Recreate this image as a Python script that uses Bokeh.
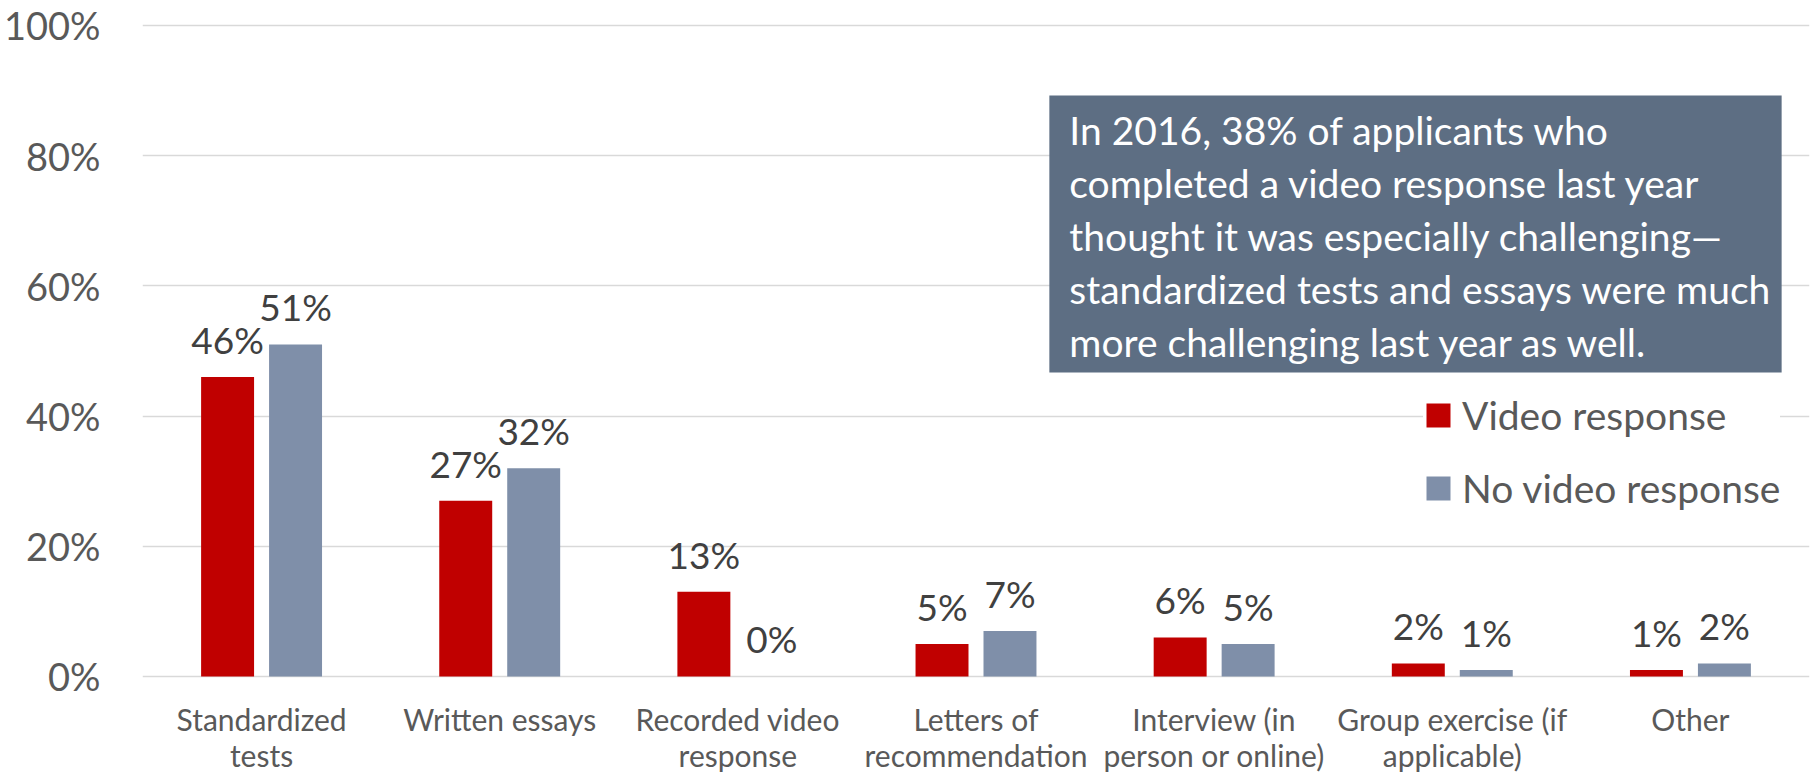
from bokeh.plotting import figure
from bokeh.models import (FactorRange, Range1d, LabelSet, ColumnDataSource, Legend,
                          LegendItem, BoxAnnotation, Label, FixedTicker)
from bokeh.transform import dodge
from bokeh.core.properties import value
from bokeh.embed import file_html
from bokeh.resources import INLINE

# ---- data ----
categories = ["Standardized\ntests", "Written essays", "Recorded video\nresponse",
              "Letters of\nrecommendation", "Interview (in\nperson or online)",
              "Group exercise (if\napplicable)", "Other"]
video_response = [46, 27, 13, 5, 6, 2, 1]
no_video_response = [51, 32, 0, 7, 5, 1, 2]
series_names = ["Video response", "No video response"]
y_ticks = [0, 20, 40, 60, 80, 100]
y_tick_labels = ["0%", "20%", "40%", "60%", "80%", "100%"]
note_lines = ["In 2016, 38% of applicants who",
              "completed a video response last year",
              "thought it was especially challenging\u2014",
              "standardized tests and essays were much",
              "more challenging last year as well."]

FONT = "Lato"
RED = "#C00000"
GRAY = "#7F8FA9"
TXT = "#595959"

src = ColumnDataSource(dict(
    cat=categories,
    zero=[0] * len(categories),
    video=video_response,
    novideo=no_video_response,
    video_lbl=[f"{v}%" for v in video_response],
    novideo_lbl=[f"{v}%" for v in no_video_response],
))

p = figure(x_range=FactorRange(factors=categories, range_padding=0),
           y_range=Range1d(-15.668, 100.61), width=1816, height=778,
           output_backend="svg", toolbar_location=None,
           min_border_left=140, min_border_right=7,
           min_border_top=21, min_border_bottom=0)
p.outline_line_color = None
p.background_fill_color = "white"
p.border_fill_color = "white"

# grid
p.xgrid.grid_line_color = None
p.ygrid.ticker = FixedTicker(ticks=y_ticks)
p.ygrid.grid_line_color = "#D9D9D9"
p.ygrid.grid_line_width = 1.5

# y axis
p.yaxis.ticker = FixedTicker(ticks=y_ticks)
p.yaxis.major_label_overrides = {t: l for t, l in zip(y_ticks, y_tick_labels)}
p.yaxis.axis_line_color = None
p.yaxis.major_tick_line_color = None
p.yaxis.minor_tick_line_color = None
p.yaxis.major_tick_in = 0
p.yaxis.major_tick_out = 0
p.yaxis.major_label_standoff = 42
p.yaxis.major_label_text_font = FONT
p.yaxis.major_label_text_font_size = "38px"
p.yaxis.major_label_text_color = TXT

# x axis: category labels drawn under the baseline
p.xaxis.visible = False
p.text(x="cat", y="zero", text="cat", source=src, text_align="center",
       text_baseline="top", y_offset=25, text_font=value(FONT),
       text_font_size="30px", text_line_height=1.0, text_color=TXT)

OFF = 0.1427
BW = 0.2224
r1 = p.vbar(x=dodge("cat", -OFF, range=p.x_range), top="video", width=BW,
            source=src, fill_color=RED, line_color=None)
r2 = p.vbar(x=dodge("cat", OFF, range=p.x_range), top="novideo", width=BW,
            source=src, fill_color=GRAY, line_color=None)

for col, off in (("video", -OFF), ("novideo", OFF)):
    ls = LabelSet(x=dodge("cat", off, range=p.x_range), y=col, text=col + "_lbl",
                  source=src, text_align="center", text_baseline="alphabetic",
                  y_offset=23, text_font=value(FONT), text_font_size="37px",
                  text_color="#404040")
    p.add_layout(ls)

# note box
box = BoxAnnotation(left=3.808, right=6.883, top=89.25, bottom=46.7,
                    fill_color="#5D6E83", fill_alpha=1.0, line_color=None)
p.add_layout(box)
for i, line in enumerate(note_lines):
    p.add_layout(Label(x=3.892, y=84.02 - i * 8.15, text=line,
                       text_font=FONT, text_font_size="39px", text_color="white",
                       text_baseline="alphabetic", text_align="left"))

legend = Legend(items=[LegendItem(label=series_names[0], renderers=[r1]),
                       LegendItem(label=series_names[1], renderers=[r2])],
                location=(1281, 267), glyph_width=30, glyph_height=30,
                label_text_font=FONT, label_text_font_size="39px",
                label_text_color=TXT, label_standoff=9, label_height=47,
                spacing=26, padding=18, margin=0, border_line_color=None,
                background_fill_color="white", background_fill_alpha=1.0)
p.add_layout(legend)

open("out.html", "w").write(file_html(p, INLINE))
